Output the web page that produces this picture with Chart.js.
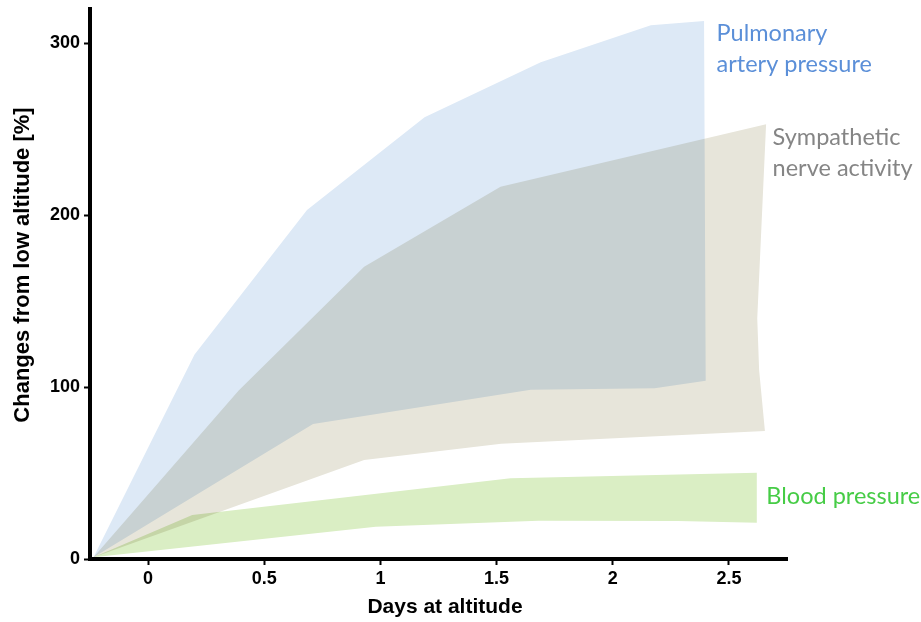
<!DOCTYPE html>
<html>
<head>
<meta charset="utf-8"/>
<title>Changes from low altitude</title>
<script src="https://cdn.jsdelivr.net/npm/chart.js"></script>
<style>
  body { margin: 0; background: #ffffff; }
  .wrap { width: 921px; height: 622px; }
</style>
</head>
<body>
<div class="wrap"><canvas id="altChart"></canvas></div>
<script>
  // axis ticks
  const xTicks = [0, 0.5, 1, 1.5, 2, 2.5];
  const xTickLabels = ['0', '0.5', '1', '1.5', '2', '2.5'];
  const yTicks = [0, 100, 200, 300];

  // pulmonary artery pressure band (upper / lower edge)
  const papUpperX = [-0.235, 0.20, 0.684, 1.19, 1.69, 2.164, 2.393];
  const papUpperY = [1, 119, 203, 257, 289, 310.5, 313];
  const papLowerX = [-0.235, 0.71, 1.647, 2.18, 2.40];
  const papLowerY = [1, 78.5, 98.5, 99.3, 103.7];

  // sympathetic nerve activity band
  const snaUpperX = [-0.235, 0.39, 0.93, 1.517, 2.66];
  const snaUpperY = [1, 98, 170, 216.6, 253];
  const snaEdgeX = [2.622, 2.63];
  const snaEdgeY = [140, 110];
  const snaLowerX = [-0.235, 0.93, 1.52, 2.655];
  const snaLowerY = [1, 57.6, 67, 74.5];

  // blood pressure band
  const bpUpperX = [-0.235, 0.19, 1.56, 2.62];
  const bpUpperY = [1, 25.6, 47, 50.2];
  const bpLowerX = [-0.235, 0.98, 1.68, 2.28, 2.62];
  const bpLowerY = [1, 18.8, 22.3, 22.1, 21.1];

  function outline(ux, uy, lx, ly, ex, ey) {
    const pts = ux.map((x, i) => ({ x: x, y: uy[i] }));
    (ex || []).forEach((x, i) => pts.push({ x: x, y: ey[i] }));
    for (let i = lx.length - 1; i >= 0; i--) pts.push({ x: lx[i], y: ly[i] });
    return pts;
  }

  function band(points, color) {
    return {
      data: points,
      showLine: true,
      fill: 'shape',
      backgroundColor: color,
      borderWidth: 0,
      pointRadius: 0,
      tension: 0
    };
  }

  // multiply so overlapping bands darken like the original
  const blendPlugin = {
    id: 'blend',
    beforeDatasetsDraw(chart) {
      chart.ctx.save();
      chart.ctx.globalCompositeOperation = 'multiply';
    },
    afterDatasetsDraw(chart) {
      chart.ctx.restore();
    }
  };

  const labels = [
    { lines: ['Pulmonary', 'artery pressure'], x: 2.447, y: 301.3, color: '#5b8fd8' },
    { lines: ['Sympathetic', 'nerve activity'], x: 2.688, y: 240.8, color: '#858585' },
    { lines: ['Blood pressure'], x: 2.661, y: 32, color: '#46cc46' }
  ];

  const titleFamily = "'Liberation Sans', Arial, sans-serif";

  const labelPlugin = {
    id: 'bandLabels',
    afterDraw(chart) {
      const ctx = chart.ctx;
      const xs = chart.scales.x, ys = chart.scales.y;
      ctx.save();
      ctx.font = '23.5px Lato';
      ctx.textAlign = 'left';
      ctx.textBaseline = 'alphabetic';
      labels.forEach(l => {
        ctx.fillStyle = l.color;
        const px = xs.getPixelForValue(l.x);
        const py = ys.getPixelForValue(l.y);
        l.lines.forEach((t, i) => ctx.fillText(t, px, py + i * 31));
      });

      // axis titles (sit a little off the axis centres, as in the original)
      ctx.fillStyle = '#000';
      ctx.textAlign = 'center';
      ctx.textBaseline = 'middle';
      ctx.font = 'bold 21px ' + titleFamily;
      ctx.fillText('Days at altitude', 445, 607);
      ctx.translate(22.5, 265);
      ctx.rotate(-Math.PI / 2);
      ctx.font = 'bold 22px ' + titleFamily;
      ctx.fillText('Changes from low altitude [%]', 0, 0);
      ctx.restore();
    }
  };

  const axisFont = { family: titleFamily, weight: 'bold', size: 18 };

  new Chart(document.getElementById('altChart'), {
    type: 'scatter',
    data: {
      datasets: [
        band(outline(snaUpperX, snaUpperY, snaLowerX, snaLowerY, snaEdgeX, snaEdgeY), 'rgb(231,229,218)'),
        band(outline(papUpperX, papUpperY, papLowerX, papLowerY), 'rgb(221,233,246)'),
        band(outline(bpUpperX, bpUpperY, bpLowerX, bpLowerY), 'rgb(218,238,196)')
      ]
    },
    options: {
      responsive: true,
      maintainAspectRatio: false,
      animation: false,
      layout: { padding: { top: 9, right: 134, left: 0, bottom: 0 } },
      plugins: { legend: { display: false }, tooltip: { enabled: false } },
      scales: {
        x: {
          type: 'linear',
          min: -0.25,
          max: 2.75,
          afterBuildTicks: s => { s.ticks = xTicks.map(v => ({ value: v })); },
          afterFit: s => { s.height = 63; s.paddingLeft = 0; s.paddingRight = 0; },
          border: { display: true, color: '#000', width: 4 },
          grid: { drawOnChartArea: false, drawTicks: true, tickLength: 6, tickWidth: 2, tickColor: '#000' },
          ticks: {
            color: '#000', font: axisFont, padding: 3, maxRotation: 0,
            callback: (v, i) => xTickLabels[i]
          }
        },
        y: {
          type: 'linear',
          min: 0,
          max: 320,
          afterBuildTicks: s => { s.ticks = yTicks.map(v => ({ value: v })); },
          afterFit: s => { s.width = 90; s.paddingTop = 0; s.paddingBottom = 0; },
          border: { display: true, color: '#000', width: 4 },
          grid: { drawOnChartArea: false, drawTicks: true, tickLength: 6, tickWidth: 2, tickColor: '#000' },
          ticks: { color: '#000', font: axisFont, padding: 4 }
        }
      }
    },
    plugins: [blendPlugin, labelPlugin]
  });
</script>
</body>
</html>
